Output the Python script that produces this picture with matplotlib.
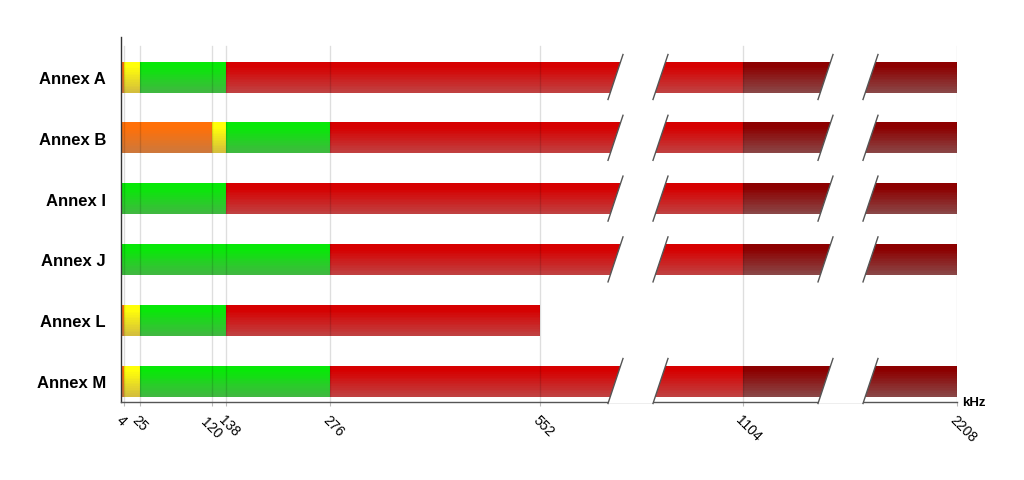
import numpy as np
import matplotlib
matplotlib.use("Agg")
import matplotlib.pyplot as plt
import matplotlib.transforms as mtransforms
from matplotlib.patches import Polygon

# ---------------- data ----------------
annexes = ["Annex A", "Annex B", "Annex I", "Annex J", "Annex L", "Annex M"]
tick_khz = [4, 25, 120, 138, 276, 552, 1104, 2208]
tick_labels = ["4", "25", "120", "138", "276", "552", "1104", "2208"]

annex_bounds = [
    [0, 4, 25, 138, 1104, 2208],      # A
    [0, 120, 138, 276, 1104, 2208],   # B
    [0, 138, 1104, 2208],             # I
    [0, 276, 1104, 2208],             # J
    [0, 4, 25, 138, 552],             # L
    [0, 4, 25, 276, 1104, 2208],      # M
]
annex_bands = [
    ["voice", "guard", "up", "down", "ext"],
    ["voice", "guard", "up", "down", "ext"],
    ["up", "down", "ext"],
    ["up", "down", "ext"],
    ["voice", "guard", "up", "down"],
    ["voice", "guard", "up", "down", "ext"],
]

# ---------------- style / layout ----------------
band_colors = {  # (top, bottom)
    "voice": ((255, 112, 8), (205, 120, 60)),
    "guard": ((255, 255, 10), (212, 190, 60)),
    "up":    ((8, 232, 8), (64, 184, 64)),
    "down":  ((214, 0, 0), (192, 64, 64)),
    "ext":   ((140, 0, 0), (138, 70, 70)),
}

W, H, DPI = 1024, 481, 100
ax_left_px, ax_right_px = 120.5, 957
ax_top_px, ax_bottom_px = 38, 403
# non-uniform axis: kHz -> pixel positions
scale_khz = [0, 4, 25, 120, 138, 276, 552, 1104, 2208]
scale_px = [120.5, 123.5, 139.5, 212, 226, 330, 540, 743, 957]
scale_frac = [(p - ax_left_px) / (ax_right_px - ax_left_px) for p in scale_px]


def fwd(x):
    return np.interp(x, scale_khz, scale_frac)


def inv(f):
    return np.interp(f, scale_frac, scale_khz)


def px_to_khz(px):
    return float(inv((px - ax_left_px) / (ax_right_px - ax_left_px)))


plt.rcParams["font.family"] = ["Liberation Sans", "DejaVu Sans"]

fig = plt.figure(figsize=(W / DPI, H / DPI), dpi=DPI)
ax = fig.add_axes([ax_left_px / W, 1 - ax_bottom_px / H,
                   (ax_right_px - ax_left_px) / W, (ax_bottom_px - ax_top_px) / H])
ax.set_xscale("function", functions=(fwd, inv))
ax.set_xlim(0, 2208)

row_px = (382 - 78) / 5.0
ax.set_ylim(5 + (ax_bottom_px - 382) / row_px, -(78 - ax_top_px) / row_px)

bar_h = 31 / row_px
n_strips = 18


def mix(c1, c2, t):
    return tuple((a + (b - a) * t) / 255.0 for a, b in zip(c1, c2))


for row, (bounds, bands) in enumerate(zip(annex_bounds, annex_bands)):
    for j, band in enumerate(bands):
        x0, x1 = bounds[j], bounds[j + 1]
        top_c, bot_c = band_colors[band]
        for i in range(n_strips):
            t = i / (n_strips - 1)
            t = min(max((t - 0.15) / 0.85, 0), 1)
            y0 = row - bar_h / 2 + i * bar_h / n_strips
            ax.barh(y0, x1 - x0, left=x0, height=bar_h / n_strips * 1.05,
                    align="edge", color=mix(top_c, bot_c, t),
                    linewidth=0, zorder=2)

# grid lines (over bars, translucent)
for tk in tick_khz:
    ax.axvline(tk, ymax=0.975, color="black", alpha=0.13, lw=1, zorder=3)

# breaks
break_pairs_px = [(615.5, 660.5), (825.5, 870.5)]
half_slant_px = 7.5
half_h = 22.5 / row_px
for row, bounds in enumerate(annex_bounds):
    if bounds[-1] < 2208:
        continue
    for a_px, b_px in break_pairs_px:
        ytop, ybot = row - half_h, row + half_h
        a_top, a_bot = px_to_khz(a_px + half_slant_px), px_to_khz(a_px - half_slant_px)
        b_top, b_bot = px_to_khz(b_px + half_slant_px), px_to_khz(b_px - half_slant_px)
        poly = Polygon([(a_top, ytop), (b_top, ytop), (b_bot, ybot), (a_bot, ybot)],
                       closed=True, facecolor="white", edgecolor="none",
                       zorder=5, clip_on=False)
        ax.add_patch(poly)
        ax.plot([a_top, a_bot], [ytop, ybot], color="#555555", lw=1,
                zorder=6, clip_on=False)
        ax.plot([b_top, b_bot], [ytop, ybot], color="#555555", lw=1,
                zorder=6, clip_on=False)

# axes styling
for s in ("top", "right"):
    ax.spines[s].set_visible(False)
ax.spines["left"].set_color("#333333")
ax.spines["bottom"].set_color("#555555")
ax.spines["left"].set_linewidth(1)
ax.spines["bottom"].set_linewidth(1)

ax.set_yticks(range(len(annexes)))
ax.set_yticklabels(annexes, fontsize=12, fontweight="bold")
ax.tick_params(axis="y", length=0, pad=10.5)

ax.set_xticks(tick_khz)
labels = ax.set_xticklabels(tick_labels, fontsize=10, rotation=-45, ha="left",
                            va="top", rotation_mode="anchor")
ax.tick_params(axis="x", length=3, color="#bbbbbb", pad=4)
ax.minorticks_off()
# nudge the crowded "120" label down-left so it clears "138"
shift = mtransforms.ScaledTranslation(-4 / DPI, -2 / DPI, fig.dpi_scale_trans)
for lab in ax.get_xticklabels():
    if lab.get_text() == "120":
        lab.set_transform(lab.get_transform() + shift)

ax.annotate("kHz", xy=(1, 0), xycoords="axes fraction", xytext=(4, 0),
            textcoords="offset points", fontsize=9.5, fontweight="bold",
            ha="left", va="center")

fig.savefig("out.png", dpi=DPI, facecolor="white")
